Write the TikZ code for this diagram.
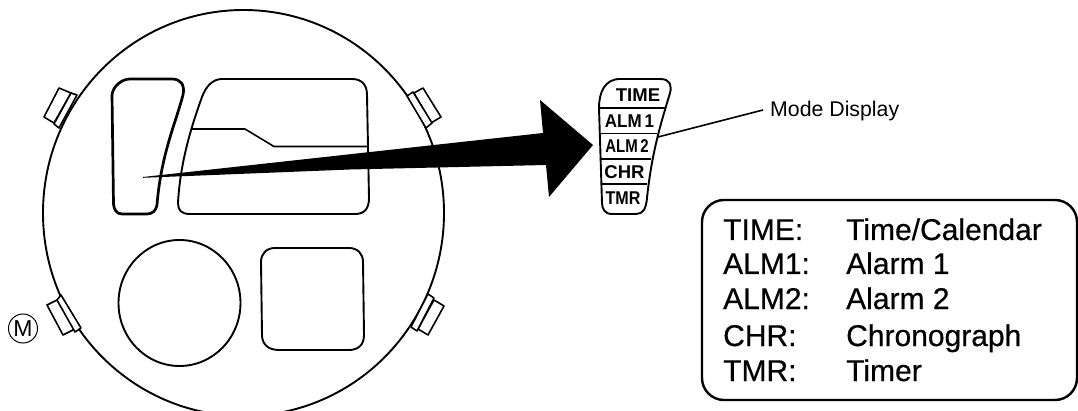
\documentclass[tikz,border=0pt]{standalone}
\usepackage{fontspec}
\setmainfont{Liberation Sans}
\newfontfamily\legendfont[FakeBold=0.5]{Liberation Sans}
\begin{document}
\begin{tikzpicture}[x=1pt,y=-1pt,
  thinl/.style={draw=black,line width=1.6pt,line join=round},
  medl/.style={draw=black,line width=1.9pt,line join=round},
  thick2/.style={draw=black,line width=2.7pt,line join=round},
  legend/.style={anchor=base west,inner sep=0pt,font=\legendfont\fontsize{30}{32}\selectfont},
  modetxt/.style={inner sep=0pt,font=\bfseries\fontsize{18.5}{20}\selectfont}]
\useasboundingbox (0,0) rectangle (1078,411);
\begin{scope}
\clip (0,0) rectangle (1078,411);
\draw[medl] (243.5,213) ellipse[x radius=200.5,y radius=203];
% legend box
\draw[line width=2.4pt,rounded corners=22pt] (702,200) rectangle (1077,400);
\end{scope}
% buttons
\draw[thinl,fill=white] (59,88)--(44,117)--(54,123)--(71,93)--cycle;
\draw[thinl,fill=white] (71,93)--(77,95)--(59,128)--(54,124)--cycle;
\draw[thinl,fill=white] (47,305)--(63,335)--(75,329)--(57,300)--cycle;
\draw[thinl,fill=white] (57,300)--(61,295)--(81,328)--(75,332)--cycle;
\draw[thinl,fill=white] (423,88)--(441,117)--(431,123)--(414,93)--cycle;
\draw[thinl,fill=white] (407,96)--(413,92)--(432,123)--(426,128)--cycle;
\draw[thinl,fill=white] (444,306)--(428,335)--(418,329)--(434,300)--cycle;
\draw[thinl,fill=white] (428,294)--(434,298)--(417,331)--(411,327)--cycle;
% M
\node[circle,draw,line width=1pt,minimum size=29pt,inner sep=0pt,font=\fontsize{23}{24}\selectfont] (mmark) at (23,328.5) {M};
% left display
\draw[thick2] (112,95) .. controls (113,86) and (122,79) .. (130,79)
  -- (172,79) .. controls (181,79) and (185,85) .. (183,95)
  .. controls (175,125) and (161,155) .. (157,205)
  .. controls (156,211) and (152,214) .. (147,214) -- (122,214)
  .. controls (116,214) and (114,209) .. (113.5,204) -- cycle;
% main display
\draw[medl] (222,79) -- (352,79) .. controls (362,79) and (367,85) .. (367,95)
  -- (369,198) .. controls (369,208) and (365,214) .. (355,214)
  -- (190,214) .. controls (181,214) and (178,210) .. (178,203)
  .. controls (180,165) and (190,130) .. (202,97)
  .. controls (206,86) and (213,79) .. (222,79) -- cycle;
\draw[thinl] (192,129) -- (245,129) -- (274,146.5) -- (367,146.5);
% round and square displays
\draw[medl] (179.5,303) ellipse[x radius=61,y radius=63];
\draw[medl] (275,248) -- (349,248) .. controls (358,248) and (363,254) .. (363,262)
  -- (364,335) .. controls (364,345) and (358,350) .. (349,350)
  -- (279,350) .. controls (268,350) and (262,344) .. (262,335)
  -- (261,262) .. controls (261,254) and (266,248) .. (275,248) -- cycle;
% big arrow
\fill[black] (143,177) -- (543,133) -- (540,100) -- (593,145) -- (549,197) -- (546,165) -- (350,169.5) -- (143,177.8) -- cycle;
% mode panel
\draw[medl] (599,108) .. controls (599,92) and (605,79) .. (620,79) -- (660,79)
  .. controls (670,79) and (672,85) .. (670,93)
  .. controls (662,120) and (652,150) .. (647,198)
  .. controls (646,209) and (643,214) .. (636,214) -- (612,214)
  .. controls (605,214) and (602,209) .. (602,203) -- cycle;
\draw[thinl] (599,108) -- (666,108);
\draw[thinl] (600,133.5) -- (657,133.5);
\draw[thinl] (600.5,159) -- (651,159);
\draw[thinl] (601,184) -- (647,184);
\node[modetxt] (mtime) at (638,95) {TIME};
\node[modetxt] (malm1) at (629.5,121) {\scalebox{0.92}[1]{ALM\,1}};
\node[modetxt] (malm2) at (627,146.5) {\scalebox{0.81}[1]{ALM\,2}};
\node[modetxt] (mchr) at (624.5,172) {CHR};
\node[modetxt] (mtmr) at (623,198) {\scalebox{0.87}[1]{TMR}};
% leader
\coordinate (leadstart) at (658,137);
\node[anchor=base west,inner sep=0pt,font=\fontsize{21.3}{24}\selectfont] (modelabel) at (770,116.5) {Mode Display};
\draw[thinl] (leadstart) -- (763,110);
% legend
\node[legend] (l1) at (723,240) {TIME:};
\node[legend] (v1) at (846,240) {Time/Calendar};
\node[legend] (l2) at (723,274) {ALM1:};
\node[legend] (v2) at (846,274) {Alarm 1};
\node[legend] (l3) at (723,309) {ALM2:};
\node[legend] (v3) at (846,309) {Alarm 2};
\node[legend] (l4) at (723,346) {CHR:};
\node[legend] (v4) at (846,346) {Chronograph};
\node[legend] (l5) at (723,381) {TMR:};
\node[legend] (v5) at (846,381) {Timer};
\end{tikzpicture}
\end{document}
